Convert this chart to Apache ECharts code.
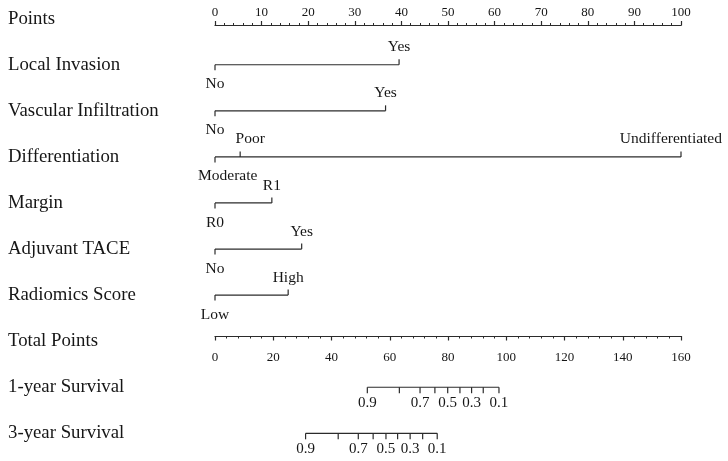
<!DOCTYPE html>
<html>
<head>
<meta charset="utf-8">
<script src="https://cdn.jsdelivr.net/npm/echarts@6/dist/echarts.min.js"></script>
<style>
html,body{margin:0;padding:0;background:#fff;}
#chart{width:728px;height:461px;}
</style>
</head>
<body>
<div id="chart"></div>
<script>
// ---------- data ----------
const rowNames = ['Points', 'Local Invasion', 'Vascular Infiltration', 'Differentiation', 'Margin',
  'Adjuvant TACE', 'Radiomics Score', 'Total Points', '1-year Survival', '3-year Survival'];

const localInvasionLevels = ['No', 'Yes'];
const localInvasionPoints = [0, 39.5];
const vascularLevels = ['No', 'Yes'];
const vascularPoints = [0, 36.6];
const differentiationLevels = ['Moderate', 'Poor', 'Undifferentiated'];
const differentiationPoints = [0, 5.4, 100];
const marginLevels = ['R0', 'R1'];
const marginPoints = [0, 12.2];
const taceLevels = ['No', 'Yes'];
const tacePoints = [0, 18.6];
const radiomicsLevels = ['Low', 'High'];
const radiomicsPoints = [0, 15.7];

const pointsMin = 0, pointsMax = 100, pointsInterval = 10;
const totalMin = 0, totalMax = 160, totalInterval = 20;

const survivalProbs = [0.9, 0.8, 0.7, 0.6, 0.5, 0.4, 0.3, 0.2, 0.1];
const survivalLabelProbs = [0.9, 0.7, 0.5, 0.3, 0.1];
const survival1yTotalPoints = [52.3, 63.3, 70.4, 75.5, 79.9, 84.1, 88.1, 92.1, 97.5];
const survival3yTotalPoints = [31.1, 42.3, 49.2, 54.3, 58.7, 62.7, 67.0, 71.3, 76.3];

// ---------- styles ----------
const LINE = '#2b2b2b';
const TEXT = '#161616';
const FONT = '"Liberation Serif", "Times New Roman", serif';
const W = 728;
const labelNudge = {Poor: 10};

const factorRows = [
  {name: 'Local Invasion', levels: localInvasionLevels, points: localInvasionPoints},
  {name: 'Vascular Infiltration', levels: vascularLevels, points: vascularPoints},
  {name: 'Differentiation', levels: differentiationLevels, points: differentiationPoints},
  {name: 'Margin', levels: marginLevels, points: marginPoints},
  {name: 'Adjuvant TACE', levels: taceLevels, points: tacePoints},
  {name: 'Radiomics Score', levels: radiomicsLevels, points: radiomicsPoints}
];
const survivalRows = [
  {name: '1-year Survival', totals: survival1yTotalPoints},
  {name: '3-year Survival', totals: survival3yTotalPoints}
];

const ctx = document.createElement('canvas').getContext('2d');
function measure(text, size) {
  ctx.font = size + 'px ' + FONT;
  return ctx.measureText(text).width;
}

const LEVEL_FS = 15.5;
function renderFactor(params, api) {
  const row = factorRows[params.dataIndex];
  const yIdx = api.value(1);
  const y = api.coord([0, yIdx])[1];
  const xs = row.points.map(v => api.coord([v, yIdx])[0]);
  const xmin = Math.min.apply(null, xs), xmax = Math.max.apply(null, xs);
  const children = [{
    type: 'line', shape: {x1: xmin, y1: y, x2: xmax, y2: y},
    style: {stroke: LINE, lineWidth: 1.2}
  }];
  row.levels.forEach((lab, i) => {
    const below = i === 0;
    const x = xs[i];
    children.push({
      type: 'line', shape: {x1: x, y1: y, x2: x, y2: below ? y + 5.5 : y - 5.5},
      style: {stroke: LINE, lineWidth: 1.2}
    });
    const w = measure(lab, LEVEL_FS);
    let tx = x + (labelNudge[lab] || 0);
    if (tx + w / 2 > W - 6) tx = W - 6 - w / 2;
    if (tx - w / 2 < 198) tx = 198 + w / 2;
    children.push({
      type: 'text',
      style: {
        text: lab, x: tx, y: below ? y + 19.5 : y - 17.5,
        align: 'center', verticalAlign: 'middle',
        fontSize: LEVEL_FS, fontFamily: FONT, fill: TEXT
      }
    });
  });
  return {type: 'group', children: children};
}

const SURV_FS = 15;
function renderSurvival(params, api) {
  const row = survivalRows[params.dataIndex];
  const yIdx = api.value(1);
  const y = api.coord([0, yIdx])[1];
  const xs = row.totals.map(v => api.coord([v, yIdx])[0]);
  const xmin = Math.min.apply(null, xs), xmax = Math.max.apply(null, xs);
  const children = [{
    type: 'line', shape: {x1: xmin, y1: y, x2: xmax, y2: y},
    style: {stroke: LINE, lineWidth: 1.2}
  }];
  survivalProbs.forEach((p, i) => {
    const x = xs[i];
    children.push({
      type: 'line', shape: {x1: x, y1: y, x2: x, y2: y + 6},
      style: {stroke: LINE, lineWidth: 1.2}
    });
    if (survivalLabelProbs.indexOf(p) >= 0) {
      children.push({
        type: 'text',
        style: {
          text: p.toFixed(1), x: x, y: y + 15.5,
          align: 'center', verticalAlign: 'middle',
          fontSize: SURV_FS, fontFamily: FONT, fill: TEXT
        }
      });
    }
  });
  return {type: 'group', children: children};
}

const axisCommon = {
  axisLine: {show: true, onZero: false, lineStyle: {color: LINE, width: 1.2}},
  axisTick: {show: true, inside: false, length: 4.5, lineStyle: {color: LINE, width: 1.2}},
  minorTick: {show: true, splitNumber: 5, length: 2.5, lineStyle: {color: LINE, width: 1}},
  splitLine: {show: false},
  minorSplitLine: {show: false},
  axisLabel: {color: TEXT, fontSize: 13, fontFamily: FONT}
};

const option = {
  animation: false,
  backgroundColor: '#fff',
  grid: [
    {left: 215, right: 47, top: 18.7, bottom: 27.7},
    {left: 215, right: 47, top: 25.5, height: 20},
    {left: 215, right: 47, top: 316, height: 20}
  ],
  xAxis: [
    {type: 'value', gridIndex: 0, min: pointsMin, max: pointsMax, show: false},
    {type: 'value', gridIndex: 0, min: totalMin, max: totalMax, show: false},
    Object.assign({}, axisCommon, {
      type: 'value', gridIndex: 1, position: 'top', min: pointsMin, max: pointsMax, interval: pointsInterval,
      axisLabel: Object.assign({}, axisCommon.axisLabel, {margin: 6})
    }),
    Object.assign({}, axisCommon, {
      type: 'value', gridIndex: 2, position: 'bottom', min: totalMin, max: totalMax, interval: totalInterval,
      axisLabel: Object.assign({}, axisCommon.axisLabel, {margin: 15})
    })
  ],
  yAxis: [
    {
      type: 'category', gridIndex: 0, data: rowNames, inverse: true, boundaryGap: false,
      axisLine: {show: false}, axisTick: {show: false}, splitLine: {show: false},
      axisLabel: {align: 'left', margin: 207, color: TEXT, fontSize: 18.8, fontFamily: FONT}
    },
    {type: 'value', gridIndex: 1, show: false, min: 0, max: 1},
    {type: 'value', gridIndex: 2, show: false, min: 0, max: 1}
  ],
  series: [
    {
      type: 'custom', xAxisIndex: 0, yAxisIndex: 0, clip: false, silent: true,
      renderItem: renderFactor,
      data: factorRows.map(r => [0, rowNames.indexOf(r.name)])
    },
    {
      type: 'custom', xAxisIndex: 1, yAxisIndex: 0, clip: false, silent: true,
      renderItem: renderSurvival,
      data: survivalRows.map(r => [0, rowNames.indexOf(r.name)])
    }
  ]
};

const chart = echarts.init(document.getElementById('chart'), null, {renderer: 'canvas'});
chart.setOption(option);
</script>
</body>
</html>
